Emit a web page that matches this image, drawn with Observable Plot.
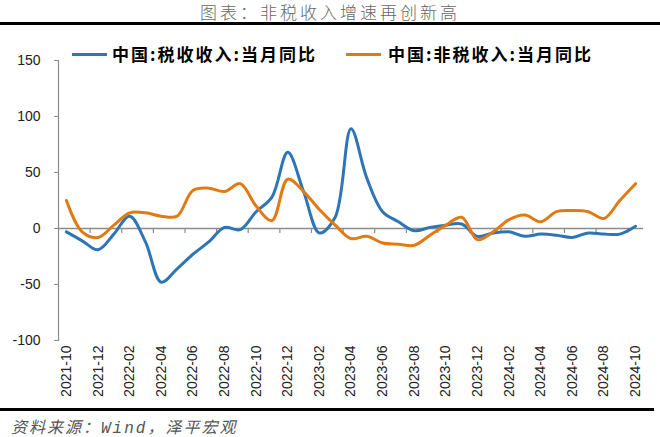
<!DOCTYPE html>
<html>
<head>
<meta charset="utf-8">
<script src="https://cdn.jsdelivr.net/npm/d3@7"></script>
<script src="https://cdn.jsdelivr.net/npm/@observablehq/plot@0.6"></script>
<style>
  html, body { margin: 0; padding: 0; background: #fff; }
  #wrap { position: relative; width: 660px; height: 437px; overflow: hidden; font-family: "Noto Sans CJK SC", sans-serif; }
  #title { position: absolute; left: 0; top: 1px; width: 660px; height: 22px; line-height: 22px; text-align: center; font-size: 17px; letter-spacing: 3px; color: #666; font-weight: 300; }
  .rule { position: absolute; left: 0; height: 3px; background: #000; }
  #chart { position: absolute; left: 0; top: 25px; }
  #legend { position: absolute; left: 0; top: 42px; width: 660px; height: 24px; }
  .lg { position: absolute; top: 0; height: 24px; line-height: 24px; font-size: 17px; font-weight: bold; letter-spacing: 2px; color: #000; white-space: nowrap; }
  .sw { position: absolute; top: 11px; width: 35px; height: 3px; }
  #source { position: absolute; left: 11px; top: 414px; font-size: 16px; letter-spacing: 2px; color: #555; font-style: italic; font-family: "Liberation Mono", "Noto Sans CJK SC", monospace; white-space: nowrap; }
</style>
</head>
<body>
<div id="wrap">
  <div id="title"></div>
  <div class="rule" style="top:22px;width:660px"></div>
  <div id="chart"></div>
  <div id="legend"></div>
  <div class="rule" style="top:408px;width:654px"></div>
  <div id="source"></div>
</div>
<script>
const titleText = "图表：非税收入增速再创新高";
const sourceText = "资料来源：Wind，泽平宏观";
const seriesNames = ["中国:税收收入:当月同比", "中国:非税收入:当月同比"];
const seriesColors = ["#2E75B6", "#E27A14"];

const months = [
  "2021-10","2021-11","2021-12","2022-01","2022-02","2022-03","2022-04","2022-05","2022-06",
  "2022-07","2022-08","2022-09","2022-10","2022-11","2022-12","2023-01","2023-02","2023-03",
  "2023-04","2023-05","2023-06","2023-07","2023-08","2023-09","2023-10","2023-11","2023-12",
  "2024-01","2024-02","2024-03","2024-04","2024-05","2024-06","2024-07","2024-08","2024-09","2024-10"
];
const taxYoY = [
  -3, -11, -19, -5, 11, -12, -48, -36, -23,
  -12, 1, -1, 15, 28, 68, 33, -4, 10,
  89, 45, 15, 6, -2, 1, 3, 4, -7,
  -4, -3, -7, -5, -6, -8, -4, -5, -5, 2
];
const nonTaxYoY = [
  25, -3, -8, 3, 14, 14, 11, 11, 34,
  36, 33, 40, 20, 7, 44, 33, 17, 3,
  -9, -7, -13, -14, -15, -6, 3, 10, -10,
  -3, 8, 12, 6, 15, 16, 15, 9, 25, 40
];
const yTicks = [-100, -50, 0, 50, 100, 150];
const labelMonths = months.filter((d, i) => i % 2 === 0);
const tickMonths = months.filter((d, i) => i % 2 === 0 && i > 0);

document.getElementById("title").textContent = titleText;
document.getElementById("source").textContent = sourceText;

const legend = document.getElementById("legend");
const legendX = [[72, 112], [346, 388]];
seriesNames.forEach((name, k) => {
  const sw = document.createElement("div");
  sw.className = "sw";
  sw.style.left = legendX[k][0] + "px";
  sw.style.background = seriesColors[k];
  legend.appendChild(sw);
  const t = document.createElement("div");
  t.className = "lg";
  t.style.left = legendX[k][1] + "px";
  t.textContent = name;
  legend.appendChild(t);
});

const taxData = months.map((m, i) => ({month: m, value: taxYoY[i]}));
const nonTaxData = months.map((m, i) => ({month: m, value: nonTaxYoY[i]}));

const W = 660, H = 382, mL = 58, mR = 17, mT = 35, mB = 67;
const step = (W - mL - mR) / months.length;
const axisColor = "#8c8c8c";

const chart = Plot.plot({
  width: W,
  height: H,
  marginLeft: mL,
  marginRight: mR,
  marginTop: mT,
  marginBottom: mB,
  style: {fontFamily: "'Liberation Sans', sans-serif", fontSize: "14px", color: "#222", background: "#fff"},
  x: {type: "point", domain: months, padding: 0.5, round: false},
  y: {domain: [-100, 150]},
  marks: [
    Plot.frame({anchor: "left", stroke: axisColor, strokeWidth: 1.2}),
    Plot.ruleY([0], {stroke: axisColor, strokeWidth: 1.5}),
    Plot.ruleX(tickMonths, {x: d => d, y1: 0, y2: 0, insetBottom: -5, dx: -step / 2, stroke: axisColor, strokeWidth: 1.2}),
    Plot.axisY({ticks: yTicks, tickFormat: d => String(d), tickSize: 4, tickPadding: 14, stroke: axisColor, fontSize: 14, label: null}),
    Plot.axisX({ticks: labelMonths, tickRotate: -90, tickSize: 0, tickPadding: 5, fontSize: 14, label: null}),
    Plot.line(taxData, {x: "month", y: "value", stroke: seriesColors[0], strokeWidth: 3, curve: "catmull-rom"}),
    Plot.line(nonTaxData, {x: "month", y: "value", stroke: seriesColors[1], strokeWidth: 3, curve: "catmull-rom"})
  ]
});
document.getElementById("chart").appendChild(chart);
</script>
</body>
</html>
